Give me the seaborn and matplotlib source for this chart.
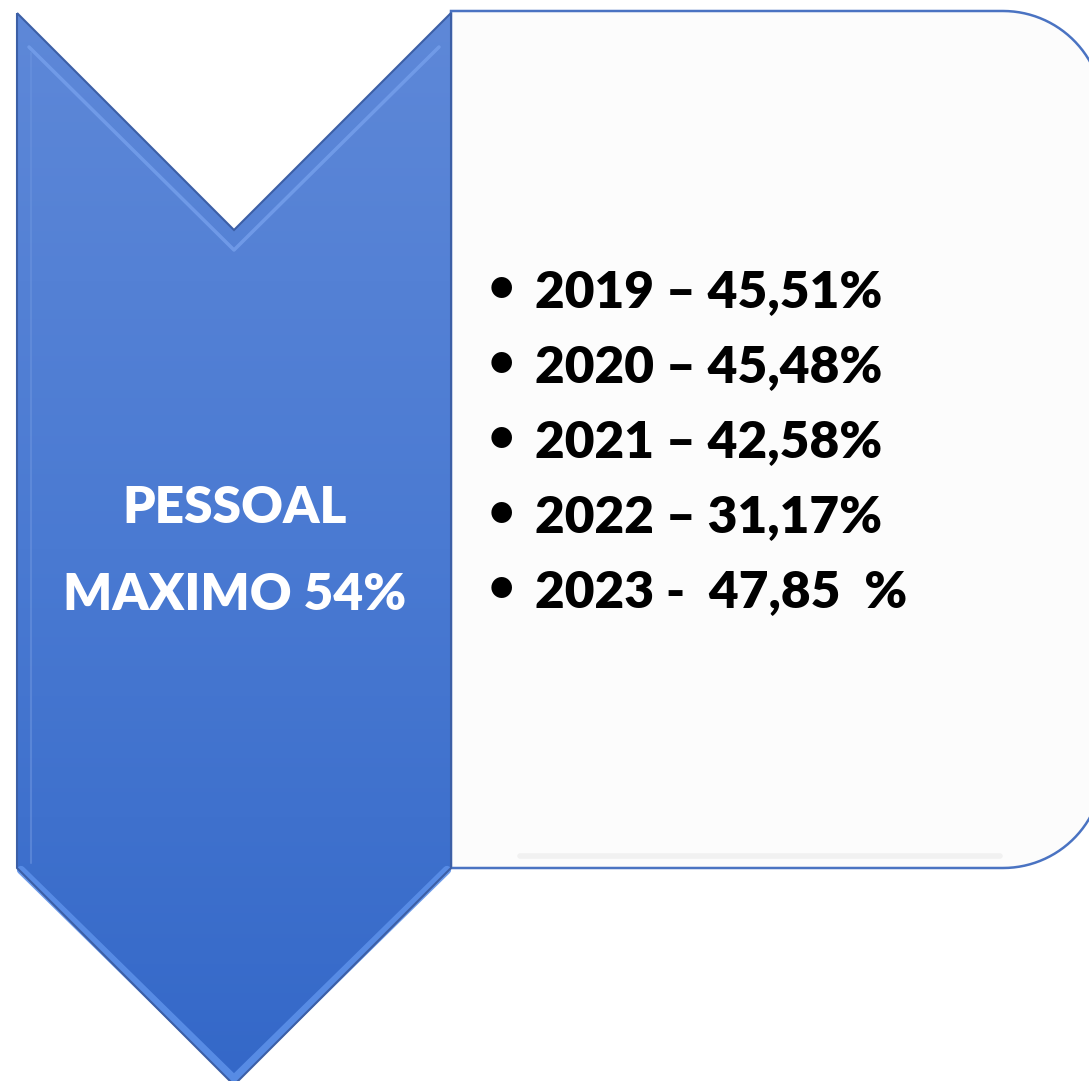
import numpy as np
import matplotlib
matplotlib.use("Agg")
import matplotlib.pyplot as plt
import seaborn as sns
from matplotlib.patches import Polygon
from matplotlib.colors import LinearSegmentedColormap

# ---- data ----
years = ["2019", "2020", "2021", "2022", "2023"]
separators = [" – ", " – ", " – ", " – ", " -  "]
values = ["45,51%", "45,48%", "42,58%", "31,17%", "47,85  %"]
title_lines = ["PESSOAL", "MAXIMO 54%"]

sns.set_theme(style="white")
plt.rcParams["font.family"] = ["Lato", "DejaVu Sans"]

W, H = 1089, 1081
fig = plt.figure(figsize=(W / 100, H / 100), dpi=100)
ax = fig.add_axes([0, 0, 1, 1])
ax.set_xlim(0, W)
ax.set_ylim(H, 0)
ax.axis("off")

# ---- right rounded box ----
x0, x1, y0, y1, r = 451, 1103, 11, 868, 100
t1 = np.linspace(-np.pi / 2, 0, 30)
t2 = np.linspace(0, np.pi / 2, 30)
verts = [(x0, y0), (x1 - r, y0)]
verts += [(x1 - r + r * np.cos(t), y0 + r + r * np.sin(t)) for t in t1]
verts += [(x1, y1 - r)]
verts += [(x1 - r + r * np.cos(t), y1 - r + r * np.sin(t)) for t in t2]
verts += [(x0, y1)]
box = Polygon(verts, closed=True, facecolor="#fcfcfc", edgecolor="#4a73c2", lw=1.8, zorder=1)
ax.add_patch(box)
ax.plot([520, 1000], [856, 856], color="#f1f1f1", lw=4, zorder=1.5, solid_capstyle="round")

# ---- chevron ----
cx0, cx1, cy0, cy1 = 17, 451, 13, 868
half = (cx1 - cx0) / 2
mid = cx0 + half
chev = [(cx0, cy0), (mid, cy0 + half), (cx1, cy0), (cx1, cy1), (mid, cy1 + half), (cx0, cy1)]
chev_patch = Polygon(chev, closed=True, facecolor="none", edgecolor="#3c5fa6", lw=1.5, zorder=4)
ax.add_patch(chev_patch)
cmap = LinearSegmentedColormap.from_list("chev", ["#5e88d8", "#4a7ad2", "#3468c8"])
grad = np.linspace(0, 1, 256).reshape(-1, 1)
im = ax.imshow(grad, cmap=cmap, extent=[cx0, cx1, cy1 + half, cy0], aspect="auto", zorder=2)
clip = Polygon(chev, closed=True, transform=ax.transData)
im.set_clip_path(clip)
ax.set_xlim(0, W)
ax.set_ylim(H, 0)

# bevel highlights
off = 20
ax.plot([cx0 + 12, mid, cx1 - 12], [cy0 + 12 + 22, cy0 + half + off, cy0 + 12 + 22],
        color="#76a0ec", lw=2.5, alpha=0.8, zorder=3)
ax.plot([cx0 + 4, mid, cx1 - 4], [cy1 + 2, cy1 + half - 6, cy1 + 2],
        color="#5b8fe8", lw=6, alpha=0.9, zorder=3)
ax.plot([cx0 + 14, cx0 + 14], [cy0 + 40, cy1 - 5], color="#6a93de", lw=1.5, alpha=0.6, zorder=3)

# ---- chevron text ----
fs = 37
ax.text(mid + 1, 523, title_lines[0], color="white", fontsize=fs, fontweight="heavy",
        ha="center", va="baseline", zorder=5)
ax.text(mid + 1, 610, title_lines[1], color="white", fontsize=fs, fontweight="heavy",
        ha="center", va="baseline", zorder=5)

# ---- bullet list ----
base0, step = 307, 75
for i, (yr, sep, val) in enumerate(zip(years, separators, values)):
    yb = base0 + i * step
    ax.text(501, yb - 19, "•", color="black", fontsize=34, fontweight="bold",
            ha="center", va="center", zorder=5)
    ax.text(535, yb, yr + sep + val, color="black", fontsize=fs, fontweight="heavy",
            ha="left", va="baseline", zorder=5)

fig.savefig("out.png", dpi=100)
